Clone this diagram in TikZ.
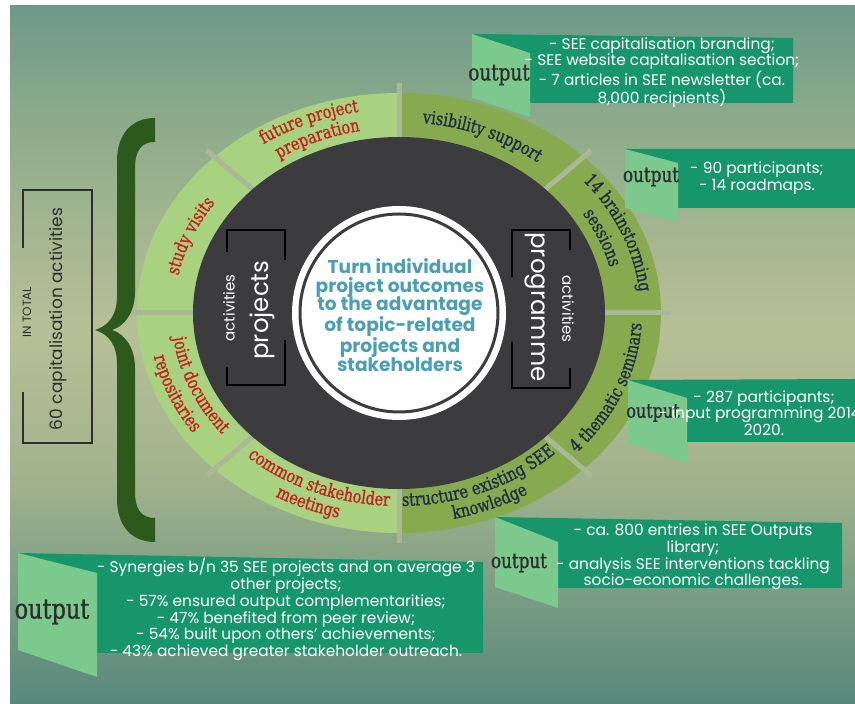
\documentclass[tikz,border=0pt]{standalone}
\usepackage{fontspec}
\setmainfont{Poppins}
\newfontfamily\slabfont{DejaVu Serif}[FakeStretch=0.8,FakeBold=1]
\usetikzlibrary{decorations.text}

\definecolor{leafgreen}{HTML}{A8D27F}
\definecolor{olivegreen}{HTML}{88AA4E}
\definecolor{hubgrey}{HTML}{3C3C3E}
\definecolor{gapgreen}{HTML}{A9B997}
\definecolor{segred}{HTML}{C61F1C}
\definecolor{segnavy}{HTML}{1F2B48}
\definecolor{goalteal}{HTML}{4A9FB3}
\definecolor{bandgreen}{HTML}{17966B}
\definecolor{panelgreen}{HTML}{7BC98D}
\definecolor{bracegreen}{HTML}{2D5A1C}
\definecolor{inkgrey}{HTML}{2E2E2E}

% backdrop: teal at the edges, pale olive in the middle
\pgfdeclareverticalshading{backfade}{100bp}{
  rgb(0bp)=(0.345,0.533,0.49);
  rgb(25bp)=(0.345,0.533,0.49);
  rgb(32.45bp)=(0.47,0.61,0.51);
  rgb(41.05bp)=(0.63,0.70,0.55);
  rgb(51.8bp)=(0.72,0.75,0.59);
  rgb(66.8bp)=(0.55,0.67,0.54);
  rgb(75bp)=(0.43,0.60,0.54);
  rgb(100bp)=(0.43,0.60,0.54)}

\newcommand{\ringfont}{\slabfont\fontsize{18}{18}\selectfont}
% text on an elliptic arc round the hub: rx, ry, from, to, colour, text
\newcommand{\ringtext}[6]{%
  \path[decorate,decoration={text along path,text align=center,
      text={|\ringfont\color{#5}|#6}}]
    (hub) ++(#3:#1 and #2) arc[start angle=#3,end angle=#4,x radius=#1,y radius=#2];}

\begin{document}
\begin{tikzpicture}[x=1pt,y=1pt,
    flagtext/.style={text=white,align=center,font=\fontsize{15.4}{14}\selectfont},
    outlabel/.style={text=inkgrey,font=\slabfont\fontsize{#1}{#1}\selectfont},
    band/.style={fill=bandgreen},
    panel/.style={fill=panelgreen},
    bracket/.style={line width=2.6pt,black},
    divider/.style={gapgreen,line width=5pt}]
  \useasboundingbox (0,0) rectangle (855,704);
  \fill[white] (0,0) rectangle (855,704);
  \shade[shading=backfade] (10,0) rectangle (855,698);

  \coordinate (hub) at (399,391);

  % ring: projects half and programme half
  \fill[leafgreen] (hub) ++(90:262 and 220) arc[start angle=90,end angle=270,x radius=262,y radius=220] -- cycle;
  \fill[olivegreen] (hub) ++(90:262 and 220) arc[start angle=90,end angle=-90,x radius=262,y radius=220] -- cycle;
  \foreach \a in {0,45,...,315}
    \draw[divider] (hub) -- ++(\a:272 and 230);

  % dark disc and the white centre
  \fill[hubgrey] (hub) ellipse[x radius=206,y radius=176];
  \fill[white] (hub) circle[radius=107];
  \draw[hubgrey,line width=3pt] (hub) circle[radius=99];

  % activity names along the ring
  \ringtext{241.6}{204}{142.5}{82.5}{segred}{future project}
  \ringtext{217.5}{185}{142.5}{82.5}{segred}{preparation}
  \ringtext{225}{191}{187.5}{127.5}{segred}{study visits}
  \ringtext{227.6}{193}{172.5}{232.5}{segred}{joint document}
  \ringtext{250.6}{211}{172.5}{232.5}{segred}{repositaries}
  \ringtext{227.6}{193}{217.5}{277.5}{segred}{common stakeholder}
  \ringtext{250.6}{211}{217.5}{277.5}{segred}{meetings}
  \ringtext{225}{191}{97.5}{37.5}{segnavy}{visibility support}
  \ringtext{241.6}{204}{52.5}{-7.5}{segnavy}{14 brainstorming}
  \ringtext{217.5}{185}{52.5}{-7.5}{segnavy}{sessions}
  \ringtext{242.9}{205}{307.5}{367.5}{segnavy}{4 thematic seminars}
  \ringtext{227.6}{193}{262.5}{322.5}{segnavy}{structure existing SEE}
  \ringtext{250.6}{211}{262.5}{322.5}{segnavy}{knowledge}

  % centre statement
  \node[align=center,text=goalteal,font=\bfseries\fontsize{18.6}{18.8}\selectfont] (goal) at (400,389)
    {Turn individual\\project outcomes\\to the advantage\\of topic-related\\projects and\\stakeholders};

  % brackets
  \draw[bracket] (227,452) -- (227,474) -- (285,474) -- (285,444);
  \draw[bracket] (227,337) -- (227,319) -- (285,319) -- (285,364);
  \draw[bracket] (512,427) -- (512,474) -- (570,474) -- (570,454);
  \draw[bracket] (512,362) -- (512,316) -- (570,316) -- (570,336);
  \node[rotate=90,text=white,font=\fontsize{15}{15}\selectfont] (acta) at (229,396) {activities};
  \node[rotate=90,text=white,font=\fontsize{24.5}{24.5}\selectfont] (proj) at (262,394) {projects};
  \node[rotate=-90,text=white,font=\fontsize{24.5}{24.5}\selectfont] (prog) at (535,397) {programme};
  \node[rotate=-90,text=white,font=\fontsize{15}{15}\selectfont] (actb) at (568,395) {activities};

  % curly brace
  \fill[bracegreen] (155,586) -- (155,562)
    .. controls (140,562) and (135,552) .. (135,535) -- (135,412)
    .. controls (135,392) and (125,378) .. (112,374)
    .. controls (125,370) and (135,356) .. (135,336) -- (135,213)
    .. controls (135,196) and (140,186) .. (155,186) -- (155,162)
    .. controls (130,162) and (117,180) .. (117,205) -- (117,340)
    .. controls (117,360) and (108,370) .. (95,374)
    .. controls (108,378) and (117,388) .. (117,408) -- (117,543)
    .. controls (117,568) and (130,586) .. (155,586) -- cycle;

  % total
  \draw[line width=1.6pt,inkgrey] (23,456) -- (23,514) -- (92,514) -- (92,261) -- (23,261) -- (23,312);
  \node[rotate=90,text=inkgrey,font=\fontsize{12}{12}\selectfont] (intotal) at (27,392) {IN TOTAL};
  \node[rotate=90,text=inkgrey,font=\fontsize{17}{17}\selectfont] (total) at (58,385) {60 capitalisation activities};

  % output flags
  \fill[band] (472,670) -- (793,666) -- (793,601) -- (530,601) -- cycle;
  \fill[panel] (472,670) -- (530,651) -- (530,587) -- (472,606) -- cycle;
  \node[outlabel=23] (out1) at (499,629) {output};
  \node[flagtext] (res1) at (662,631.5)
    {- SEE capitalisation branding;\\- SEE website capitalisation section;\\- 7 articles in SEE newsletter (ca.\\8,000 recipients)};

  \fill[band] (625,555) -- (855,555) -- (855,496) -- (678,496) -- cycle;
  \fill[panel] (625,555) -- (678,541) -- (678,482) -- (625,496) -- cycle;
  \node[outlabel=21] (out2) at (651,527) {output};
  \node[flagtext,font=\fontsize{15.4}{12.5}\selectfont] (res2) at (757,526) {- 90 participants;\\- 14 roadmaps.};

  \fill[band] (628,324) -- (855,325) -- (855,262) -- (687,262) -- cycle;
  \fill[panel] (628,324) -- (687,306) -- (687,241) -- (628,261) -- cycle;
  \node[outlabel=20] (out3) at (653,291) {output};
  \node[flagtext,font=\fontsize{15.4}{12}\selectfont] (res3) at (764,291)
    {- 287 participants;\\- input programming 2014-\\2020.};

  \fill[band] (495,187) -- (842,181) -- (842,116) -- (558,116) -- cycle;
  \fill[panel] (495,187) -- (558,162) -- (558,96) -- (495,117) -- cycle;
  \node[outlabel=21] (out4) at (519,141) {output};
  \node[flagtext] (res4) at (693,147)
    {- ca. 800 entries in SEE Outputs\\library;\\- analysis SEE interventions tackling\\socio-economic challenges.};

  \fill[band] (18,151) -- (483,142) -- (483,51) -- (97,51) -- cycle;
  \fill[panel] (18,151) -- (97,131) -- (97,27) -- (18,54) -- cycle;
  \node[outlabel=28] (out5) at (52,92) {output};
  \node[flagtext,font=\fontsize{15.4}{13}\selectfont] (res5) at (286,94.5)
    {- Synergies b/n 35 SEE projects and on average 3\\other projects;\\- 57\% ensured output complementarities;\\- 47\% benefited from peer review;\\- 54\% built upon others' achievements;\\- 43\% achieved greater stakeholder outreach.};
\end{tikzpicture}
\end{document}
